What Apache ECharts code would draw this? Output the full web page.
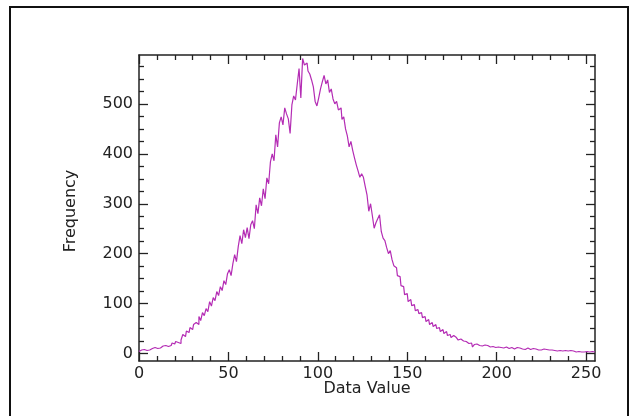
<!DOCTYPE html>
<html>
<head>
<meta charset="utf-8">
<script src="https://cdn.jsdelivr.net/npm/echarts@6/dist/echarts.min.js"></script>
<style>
  html, body { margin: 0; padding: 0; background: #ffffff; }
  #chart { width: 630px; height: 416px; }
</style>
</head>
<body>
<div id="chart"></div>
<script>
// Histogram of data values 0..255 (one count per bin)
const counts = [
  4, 7, 5, 8, 6, 9, 7, 10, 8, 12, 10, 13, 11, 15, 12, 16,
  14, 18, 16, 21, 19, 24, 22, 20, 27, 38, 34, 45, 42, 52, 48, 58,
  62, 58, 74, 66, 82, 76, 90, 84, 104, 95, 112, 106, 124, 116, 134, 126,
  146, 138, 160, 168, 156, 180, 198, 184, 214, 236, 220, 248, 232, 252, 230, 258,
  266, 250, 298, 280, 312, 296, 330, 310, 352, 340, 384, 400, 386, 438, 414, 462,
  474, 458, 492, 480, 470, 441, 498, 516, 508, 540, 571, 512, 591, 578, 582, 566,
  560, 548, 534, 505, 496, 512, 530, 544, 557, 540, 548, 523, 530, 510, 500, 505,
  488, 492, 469, 474, 450, 436, 414, 425, 407, 392, 378, 366, 353, 360, 353, 335,
  318, 285, 300, 276, 251, 262, 270, 278, 244, 231, 226, 212, 200, 206, 188, 176,
  172, 156, 154, 136, 134, 118, 120, 104, 108, 96, 98, 86, 88, 80, 82, 72,
  74, 64, 68, 58, 62, 54, 58, 50, 52, 44, 48, 40, 44, 36, 38, 32,
  36, 32, 30, 27, 29, 25, 22, 24, 20, 19, 21, 13, 18, 19, 16, 17,
  15, 17, 14, 16, 13, 15, 14, 12, 15, 13, 12, 14, 11, 13, 12, 10,
  12, 11, 9, 12, 10, 11, 9, 10, 8, 11, 9, 8, 10, 8, 9, 7,
  8, 7, 9, 6, 8, 7, 5, 7, 6, 8, 5, 6, 7, 5, 6, 4,
  5, 6, 4, 5, 3, 5, 4, 3, 5, 3, 4, 2, 3, 4, 2, 3
];
const bins = counts.map((c, i) => i);

// Axis ticks and labels
const xMajor = [0, 50, 100, 150, 200, 250];
const xMinor = [10, 20, 30, 40, 60, 70, 80, 90, 110, 120, 130, 140, 160, 170, 180, 190, 210, 220, 230, 240];
const yMajor = [0, 100, 200, 300, 400, 500];
const yMinor = [25, 50, 75, 125, 150, 175, 225, 250, 275, 325, 350, 375, 425, 450, 475, 525, 550, 575];

const xRange = [0, 255];
const yRange = [-15, 598];

const ink = '#222222';
const font = 'DejaVu Sans';

function xAx(pos, ticks, len, withLabels, withLine) {
  return {
    type: 'value', position: pos, min: xRange[0], max: xRange[1],
    axisLine: { show: withLine, onZero: false, lineStyle: { color: ink, width: 1.5 } },
    axisTick: { show: true, inside: true, length: len, customValues: ticks, lineStyle: { color: ink, width: 1.3 } },
    axisLabel: withLabels
      ? { show: true, customValues: ticks, color: ink, fontFamily: font, fontSize: 16, margin: 5 }
      : { show: false },
    splitLine: { show: false }
  };
}
function yAx(pos, ticks, len, withLabels, withLine) {
  return {
    type: 'value', position: pos, min: yRange[0], max: yRange[1],
    axisLine: { show: withLine, onZero: false, lineStyle: { color: ink, width: 1.5 } },
    axisTick: { show: true, inside: true, length: len, customValues: ticks, lineStyle: { color: ink, width: 1.3 } },
    axisLabel: withLabels
      ? { show: true, customValues: ticks, color: ink, fontFamily: font, fontSize: 16, margin: 6 }
      : { show: false },
    splitLine: { show: false }
  };
}

const chart = echarts.init(document.getElementById('chart'), null, { renderer: 'canvas' });
chart.setOption({
  animation: false,
  backgroundColor: '#ffffff',
  grid: { left: 139, top: 55, width: 456, height: 306, containLabel: false },
  xAxis: [
    xAx('bottom', xMajor, 9, true, true),
    xAx('bottom', xMinor, 5, false, false),
    xAx('top', xMajor, 9, false, true),
    xAx('top', xMinor, 5, false, false)
  ],
  yAxis: [
    yAx('left', yMajor, 9, true, true),
    yAx('left', yMinor, 5, false, false),
    yAx('right', yMajor, 9, false, true),
    yAx('right', yMinor, 5, false, false)
  ],
  series: [{
    type: 'line',
    xAxisIndex: 0,
    yAxisIndex: 0,
    step: 'middle',
    showSymbol: false,
    data: bins.map((b, i) => [b, counts[i]]),
    lineStyle: { color: '#b42cb4', width: 1.2 },
    clip: true
  }],
  graphic: [
    {
      type: 'rect', silent: true,
      shape: { x: 10, y: 7, width: 618, height: 420 },
      style: { fill: 'none', stroke: '#111111', lineWidth: 2 }
    },
    {
      type: 'text', silent: true, x: 367, y: 389,
      style: { text: 'Data Value', fill: ink, font: '16px "DejaVu Sans"', align: 'center', verticalAlign: 'middle' }
    },
    {
      type: 'text', silent: true, x: 71, y: 211, rotation: Math.PI / 2,
      style: { text: 'Frequency', fill: ink, font: '16px "DejaVu Sans"', align: 'center', verticalAlign: 'middle' }
    }
  ]
});
</script>
</body>
</html>
